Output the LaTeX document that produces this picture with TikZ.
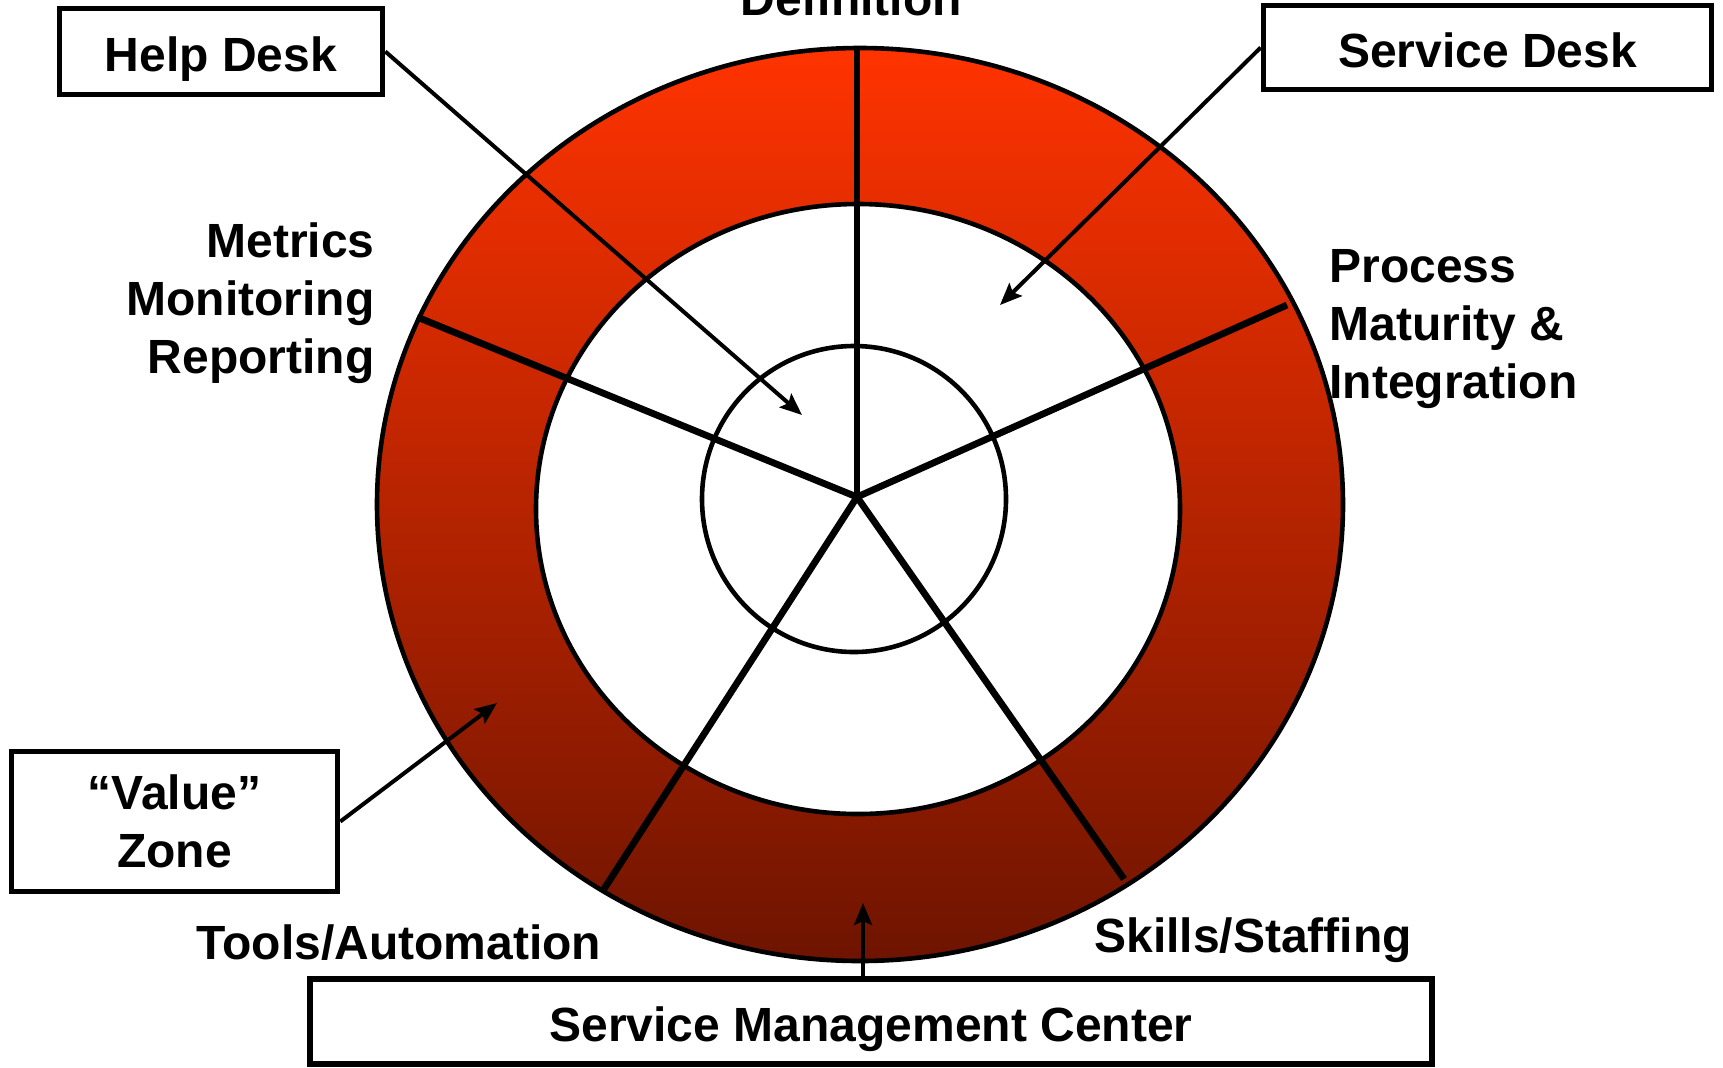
\documentclass[tikz,border=0pt]{standalone}
\usepackage{fontspec}
\setmainfont{Liberation Sans}
\usetikzlibrary{arrows.meta}
\definecolor{ringtop}{RGB}{255,51,0}
\definecolor{ringmid}{RGB}{192,38,0}
\definecolor{ringbot}{RGB}{110,20,0}
\begin{document}
\begin{tikzpicture}[x=0.5pt,y=-0.5pt,
  txt/.style={font=\fontsize{24}{29}\selectfont\bfseries, inner sep=0pt},
  box/.style={draw, line width=2.8pt, txt, align=center},
  onebox/.style={box, text height=20pt, text depth=0pt},
  callout/.style={line width=2pt, -{Stealth[length=11pt,width=9pt,inset=2pt]}},
  spoke/.style={line width=3.4pt, line cap=butt},
  rim/.style={line width=2.3pt}]
\useasboundingbox (0,0) rectangle (1723,1067);
% ring
\shadedraw[top color=ringtop, middle color=ringmid, bottom color=ringbot, rim] (860,504.5) ellipse [x radius=483, y radius=456.5];
\filldraw[fill=white, rim] (858,509) ellipse [x radius=322, y radius=305];
\draw[rim] (854,499) ellipse [x radius=152, y radius=153];
% spokes
\coordinate (hub) at (857,497);
\coordinate (sTop) at (857,48);
\coordinate (sUR) at (1287,305);
\coordinate (sUL) at (417,317);
\coordinate (sLL) at (604,889);
\coordinate (sLR) at (1124,879);
\draw[spoke] (hub) -- (sTop);
\draw[spoke] (hub) -- (sUR);
\draw[spoke] (hub) -- (sUL);
\draw[spoke] (hub) -- (sLL);
\draw[spoke] (hub) -- (sLR);
% boxes
\node[onebox, minimum width=161.5pt, minimum height=43pt] (help) at (221,51.5) {Help Desk};
\node[onebox, minimum width=224pt, minimum height=42pt] (svc) at (1487.5,47.5) {Service Desk};
\node[box, minimum width=163pt, minimum height=70pt] (val) at (174.5,821.5) {“Value”\\Zone};
\node[onebox, minimum width=561pt, minimum height=42.5pt] (smc) at (871,1021.5) {Service Management Center};
% callouts
\coordinate (tHelp) at (802,415);
\coordinate (tSvc) at (1000,305);
\coordinate (tVal) at (497,703);
\coordinate (tSmc) at (863,903);
\draw[callout] (help.east) -- (tHelp);
\draw[callout] (svc.west) -- (tSvc);
\draw[callout] (val.east) -- (tVal);
\draw[callout] (smc.north -| tSmc) -- (tSmc);
% labels
\node[txt, anchor=base] (def) at (851,15) {Definition};
\node[txt, align=right, anchor=east] (metrics) at (375,303) {Metrics\\Monitoring\\Reporting};
\node[txt, align=left, anchor=west] (proc) at (1329,329) {Process\\Maturity \&\\Integration};
\node[txt] (tools) at (399,943) {Tools/Automation};
\node[txt] (skills) at (1253,940) {Skills/Staffing};
\end{tikzpicture}
\end{document}
